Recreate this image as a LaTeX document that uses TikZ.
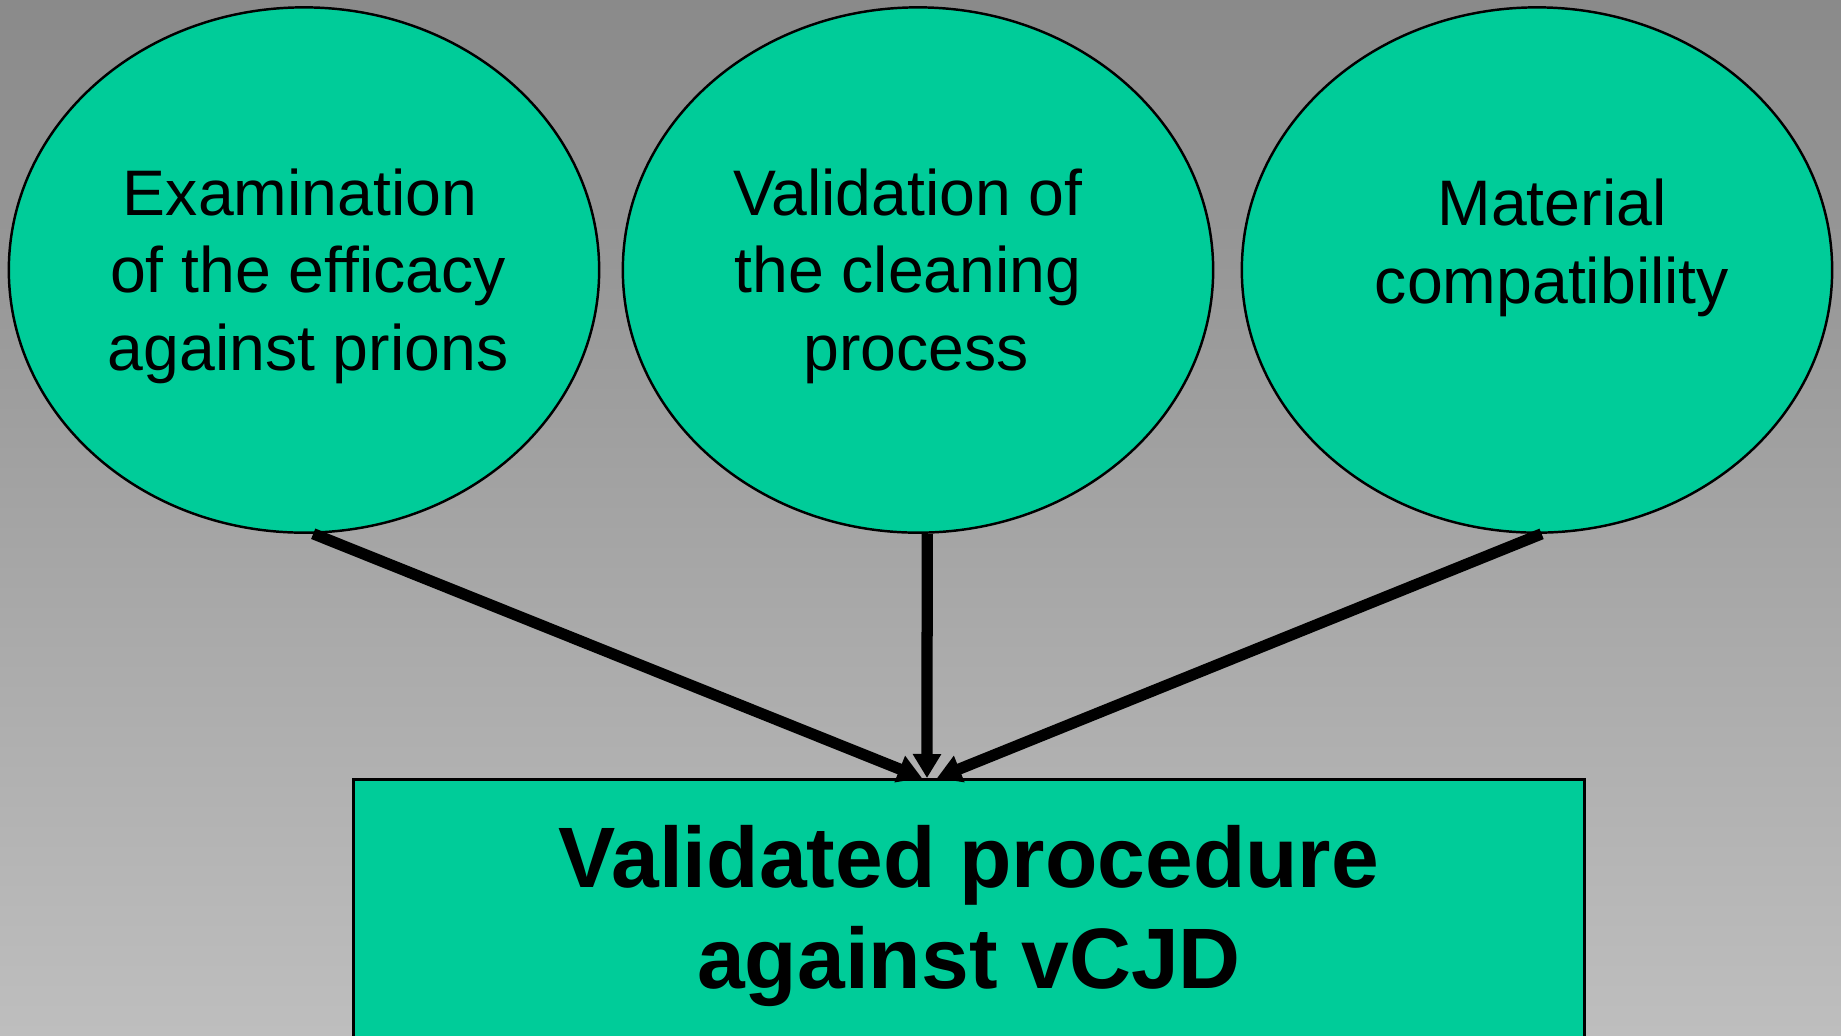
\documentclass[tikz,border=0pt]{standalone}
\usepackage{fontspec}
\setmainfont{Liberation Sans}
\usepackage{tikz}
\usetikzlibrary{arrows.meta}
\usetikzlibrary{positioning}
\usetikzlibrary{shapes}
\usetikzlibrary{calc}
\definecolor{slidetop}{HTML}{8A8A8A}
\definecolor{slidebottom}{HTML}{BEBEBE}
\definecolor{boxgreen}{HTML}{00CC99}
\tikzstyle{goal} = [ellipse, draw, fill = boxgreen, line width = 0.7pt,
    minimum width = 5.9cm, minimum height = 5.25cm, inner sep = 0]
\tikzstyle{goal text} = [align = center, font = \fontsize{18.3}{22}\selectfont]
\tikzstyle{result} = [rectangle, draw, fill = boxgreen, line width = 0.9pt,
    minimum width = 12.3cm, minimum height = 2.72cm, anchor = north,
    align = center, font = \fontsize{24.4}{28.7}\selectfont\bfseries]
\tikzstyle{edge} = [line width = 3.2pt, -{Triangle[length = 0.24cm, width = 0.27cm]}]

\begin{document}
\begin{tikzpicture}[x = 0.01cm, y = -0.01cm]
            \useasboundingbox (0, 0) rectangle (1841, 1035);
            \shade [top color = slidetop, bottom color = slidebottom]
                (0, 0) rectangle (1841, 1035);

            \node [goal] (prions) at (304, 270) {};
            \node [goal] (cleaning) at (918, 270) {};
            \node [goal] (material) at (1537, 270) {};

            \node [goal text] (prions text) at (308, 276)
                {Examination\hspace*{0.16cm}\\of the efficacy\\against prions};
            \node [goal text] (cleaning text) at (908, 276)
                {Validation of\\the cleaning\\\hspace*{0.16cm}process};
            \node [goal text] (material text) at (1552, 248)
                {Material\\compatibility};

            \node [result] (procedure) at (969, 778)
                {Validated procedure\\against vCJD};

            \coordinate (meet left) at ($(procedure.north) + (-47, 0)$);
            \coordinate (meet mid) at ($(procedure.north) + (-42, 0)$);
            \coordinate (meet right) at ($(procedure.north) + (-32, 0)$);

            \draw [edge] (prions.-88) -- (meet left);
            \draw [edge] (cleaning.-88) -- (meet mid);
            \draw [edge] (material.-89) -- (meet right);
        \end{tikzpicture}
\end{document}
